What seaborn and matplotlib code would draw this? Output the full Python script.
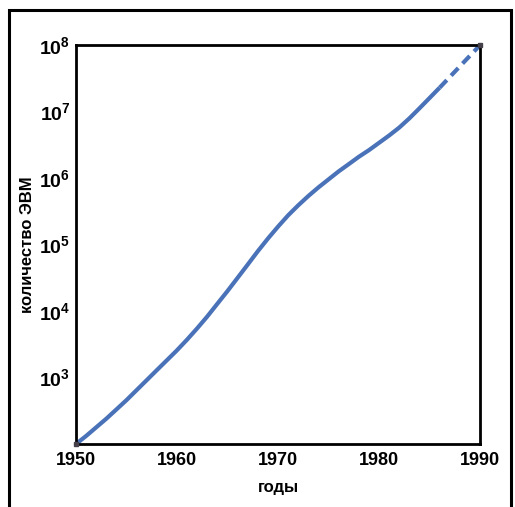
import matplotlib
matplotlib.use('Agg')
import matplotlib.pyplot as plt
import matplotlib.ticker as mticker
from matplotlib.patches import Rectangle
import seaborn as sns
import pandas as pd

# --- DATA (one point per year) ---
years_solid = list(range(1950, 1987))
count_solid = [100, 132, 178, 240, 331, 457, 646, 912, 1290, 1820,
               2570, 3720, 5500, 8300, 12900, 20000, 31600, 50000, 79400, 123000,
               186000, 275000, 389000, 537000, 724000, 955000, 1.26e6, 1.62e6, 2.09e6, 2.63e6,
               3.39e6, 4.37e6, 5.75e6, 7.9e6, 1.12e7, 1.6e7, 2.29e7]
# forecast part, drawn dashed
years_dashed = [1986, 1987, 1988, 1989, 1990]
count_dashed = [2.29e7, 3.31e7, 4.79e7, 6.92e7, 1e8]

x_ticks = [1950, 1960, 1970, 1980, 1990]
y_ticks = [1e3, 1e4, 1e5, 1e6, 1e7, 1e8]
y_tick_labels = ['$10^{3}$', '$10^{4}$', '$10^{5}$', '$10^{6}$', '$10^{7}$', '$10^{8}$']

LINE_COLOR = '#4a72b8'

sns.set_theme(style='white')
plt.rcParams['font.family'] = ['Liberation Sans', 'DejaVu Sans']
plt.rcParams['font.weight'] = 'bold'
plt.rcParams['mathtext.fontset'] = 'custom'
plt.rcParams['mathtext.rm'] = 'Liberation Sans:bold'
plt.rcParams['mathtext.it'] = 'Liberation Sans:bold'
plt.rcParams['mathtext.bf'] = 'Liberation Sans:bold'

df_solid = pd.DataFrame({'year': years_solid, 'count': count_solid})
df_dashed = pd.DataFrame({'year': years_dashed, 'count': count_dashed})

fig = plt.figure(figsize=(5.15, 5.07), dpi=100)
ax = fig.add_axes([0.1476, 0.1243, 0.7845, 0.7867])

sns.lineplot(data=df_solid, x='year', y='count', ax=ax, color=LINE_COLOR,
             linewidth=3, solid_capstyle='butt')
sns.lineplot(data=df_dashed, x='year', y='count', ax=ax, color=LINE_COLOR,
             linewidth=3, linestyle=(0, (2.5, 1.5)))

# dark blobs at the two ends of the curve, as in the print
ax.plot([years_solid[0], years_dashed[-1]], [count_solid[0], count_dashed[-1]],
        linestyle='none', marker='s', markersize=3.5, color='#45404a', clip_on=False, zorder=5)

ax.set_yscale('log')
ax.set_xlim(1950, 1990)
ax.set_ylim(1e2, 1e8)
ax.set_xticks(x_ticks)
ax.set_yticks(y_ticks)
ax.yaxis.set_minor_locator(mticker.NullLocator())
ax.set_yticklabels(y_tick_labels)

ax.tick_params(axis='both', direction='in', length=7, width=2, labelsize=13,
               colors='black', pad=6)
ax.tick_params(axis='y', pad=4, labelsize=14)
for lbl in ax.get_xticklabels() + ax.get_yticklabels():
    lbl.set_fontweight('bold')

for side, sp in ax.spines.items():
    sp.set_color('black')
    sp.set_linewidth(2)
    sp.set_visible(True)

ax.set_xlabel('годы', fontsize=12, fontweight='bold', color='black', labelpad=8)
ax.set_ylabel('количество ЭВМ', fontsize=12, fontweight='bold', color='black', labelpad=3)

# outer frame of the figure, bottom edge falls outside the image
fig.patches.append(Rectangle((0.017, -0.05), 0.975, 1.03, transform=fig.transFigure,
                             fill=False, edgecolor='black', linewidth=2.2))

fig.savefig('out.png', dpi=100)
